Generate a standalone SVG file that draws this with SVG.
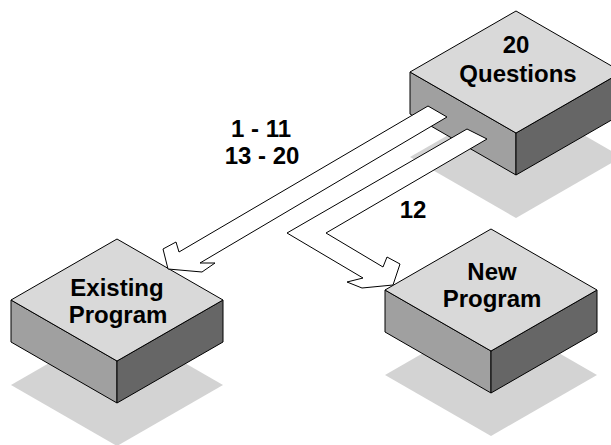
<svg xmlns="http://www.w3.org/2000/svg" width="611" height="445" viewBox="0 0 611 445">
<style>
.shadow{fill:#d3d3d3;stroke:none}
.top{fill:#d9d9d9;stroke:#000;stroke-width:1;stroke-linejoin:round}
.lf{fill:#a0a0a0;stroke:#000;stroke-width:1;stroke-linejoin:round}
.rf{fill:#666666;stroke:#000;stroke-width:1;stroke-linejoin:round}
.arrow{fill:#fff;stroke:#000;stroke-width:1;stroke-linejoin:miter}
.lbl{font-family:"Liberation Sans",Arial,Helvetica,sans-serif;font-weight:bold;font-size:24px;fill:#000;text-anchor:middle}
</style>
<rect width="611" height="445" fill="#fff"/>
<g id="node-questions">
<polygon class="shadow" points="516,96 622,157 516,218 410,157"/>
<polygon class="lf" points="410,72 516,133 516,175 410,114"/>
<polygon class="rf" points="516,133 622,72 622,114 516,175"/>
<polygon class="top" points="516,11 622,72 516,133 410,72"/>
<text class="lbl" x="516" y="53">20</text>
<text class="lbl" x="518" y="82">Questions</text>
</g>
<g id="node-existing">
<polygon class="shadow" points="117,324 223,385 117,446 11,385"/>
<polygon class="lf" points="11,300 117,361 117,403 11,342"/>
<polygon class="rf" points="117,361 223,300 223,342 117,403"/>
<polygon class="top" points="117,239 223,300 117,361 11,300"/>
<text class="lbl" x="117" y="296">Existing</text>
<text class="lbl" x="118" y="323">Program</text>
</g>
<g id="node-new">
<polygon class="shadow" points="491,314 597,375 491,436 385,375"/>
<polygon class="lf" points="385,290 491,351 491,393 385,332"/>
<polygon class="rf" points="491,351 597,290 597,332 491,393"/>
<polygon class="top" points="491,229 597,290 491,351 385,290"/>
<text class="lbl" x="492" y="280">New</text>
<text class="lbl" x="492" y="307">Program</text>
</g>
<g id="connectors">
<polygon class="arrow" points="428,106 179,252 176,242 163,249 168,269 202,272 215,263 200,263 447,117"/>
<polygon class="arrow" points="467,129 287,233 363,278 347,282 362,288 393,285 400,264 387,257 383,267 326,233 487,139"/>
<text class="lbl" x="261" y="137">1 - 11</text>
<text class="lbl" x="262" y="164">13 - 20</text>
<text class="lbl" x="413" y="218">12</text>
</g>
</svg>
